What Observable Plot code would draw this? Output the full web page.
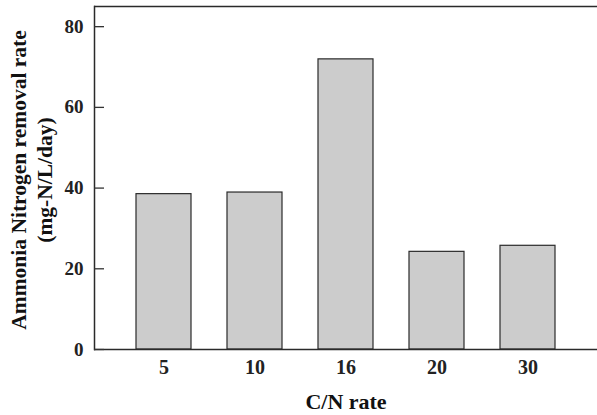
<!DOCTYPE html>
<html>
<head>
<meta charset="utf-8">
<script src="https://cdn.jsdelivr.net/npm/d3@7"></script>
<script src="https://cdn.jsdelivr.net/npm/@observablehq/plot@0.6"></script>
<style>
  html, body { margin: 0; padding: 0; background: #fff; }
</style>
</head>
<body>
<div id="chart"></div>
<script>
const categories = ["5", "10", "16", "20", "30"];
const values = [38.5, 38.9, 71.9, 24.2, 25.7];
const yTicks = [0, 20, 40, 60, 80];
const xTitle = "C/N rate";
const yTitle = "Ammonia Nitrogen removal rate\n(mg-N/L/day)";

const data = categories.map((c, i) => ({cn: c, rate: values[i]}));
const W = 597, H = 415, ML = 94;

const chart = Plot.plot({
  width: W,
  height: H,
  marginLeft: ML,
  marginRight: 0,
  marginTop: 6,
  marginBottom: 66,
  style: {fontFamily: "'Liberation Serif', 'Times New Roman', serif", fontWeight: "bold", fontSize: "19px", background: "#fff", color: "#222"},
  x: {domain: categories, paddingInner: 0.4, paddingOuter: 0.44, align: 0.5},
  y: {domain: [0, 85]},
  marks: [
    Plot.barY(data, {x: "cn", y: "rate", fill: "#cccccc", stroke: "#2a2a2a", strokeWidth: 1.2}),
    Plot.ruleY([0, 85], {stroke: "#2a2a2a", strokeWidth: 1.5}),
    Plot.frame({anchor: "left", stroke: "#2a2a2a", strokeWidth: 1.5}),
    Plot.ruleY(yTicks, {stroke: "#333", strokeWidth: 1.3, insetRight: W - ML - 10}),
    Plot.axisY(yTicks, {tickSize: 0, tickPadding: 11, fontSize: 19, fontWeight: "bold", label: null}),
    Plot.axisX({tickSize: 0, tickPadding: 10, fontSize: 20, fontWeight: "bold", label: null}),
    Plot.text([xTitle], {frameAnchor: "bottom", dy: 52, fontSize: 22, fontWeight: "bold", lineAnchor: "middle", fill: "#111"}),
    Plot.text([yTitle], {frameAnchor: "left", rotate: -90, dx: -64, dy: 2, textAnchor: "middle", fontSize: 21.5, fontWeight: "bold", lineAnchor: "middle", lineHeight: 1.2, fill: "#111"})
  ]
});
document.getElementById("chart").appendChild(chart);
</script>
</body>
</html>
